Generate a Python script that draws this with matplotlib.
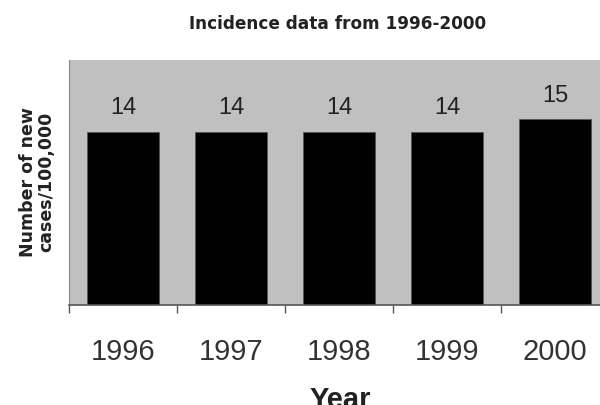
import matplotlib
matplotlib.use("Agg")
import matplotlib.pyplot as plt

years = ["1996", "1997", "1998", "1999", "2000"]
cases = [14, 14, 14, 14, 15]

plt.rcParams['font.family'] = ['Liberation Sans', 'DejaVu Sans']

fig = plt.figure(figsize=(6, 4.05), dpi=100)
ax = fig.add_axes([0.115, 0.247, 0.9, 0.605])
ax.set_facecolor('#c0c0c0')
x = list(range(len(years)))
bars = ax.bar(x, cases, width=0.667, color='black', edgecolor='#555555', linewidth=0.6)
ax.bar_label(bars, labels=[str(v) for v in cases], padding=9, fontsize=17, color='#222222')
ax.set_xlim(-0.5, len(years) - 0.5)
ax.set_ylim(0, 19.8)
ax.set_yticks([])
ax.set_xticks(x)
ax.set_xticklabels(years, fontsize=21, color='#333333')
ax.tick_params(axis='x', which='major', length=0, pad=24)
ax.set_xticks([i - 0.5 for i in range(len(years) + 1)], minor=True)
ax.tick_params(axis='x', which='minor', length=6, color='#555555', width=1)
for s in ['top', 'right']:
    ax.spines[s].set_visible(False)
ax.spines['left'].set_color('#888888')
ax.spines['bottom'].set_color('#555555')
ax.spines['bottom'].set_linewidth(1.2)

fig.text(0.563, 0.94, "Incidence data from 1996-2000", ha='center', va='center',
         fontsize=12.2, fontweight='bold', color='#222222', family=['DejaVu Sans'])
fig.text(0.062, 0.55, "Number of new\ncases/100,000", ha='center', va='center',
         rotation=90, fontsize=12.5, fontweight='bold', color='#222222', linespacing=1.05,
         family=['DejaVu Sans'])
fig.text(0.567, (405 - 386) / 405, "Year", ha='center', va='top', fontsize=21,
         fontweight='bold', color='#222222')

fig.savefig("out.png", dpi=100)
